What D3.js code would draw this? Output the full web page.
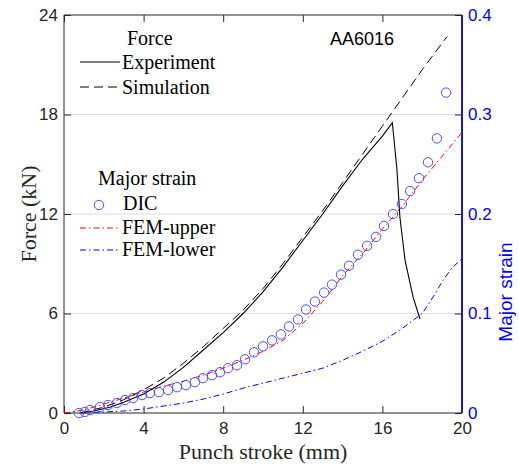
<!DOCTYPE html>
<html>
<head>
<meta charset="utf-8">
<script src="https://cdn.jsdelivr.net/npm/d3@7"></script>
<style>
body { margin: 0; background: #fff; }
</style>
</head>
<body>
<svg></svg>
<script>
// AA6016 punch test: force and major strain against punch stroke

let width = 519, height = 465;
let plotLeft = 64, plotRight = 462, plotTop = 15, plotBottom = 413;

// force curves (kN)
let expStroke = [0.8, 1.5, 2.3, 3, 4, 5, 6, 7, 8, 9, 10, 11, 12, 13, 14, 15, 16, 16.5, 16.73, 16.88, 17.14, 17.54, 17.89];
let expForce  = [0, 0.12, 0.35, 0.65, 1.15, 1.85, 2.75, 3.8, 4.85, 6.0, 7.3, 8.8, 10.4, 12.0, 13.7, 15.3, 16.7, 17.5, 14.7, 11.8, 9.2, 7.0, 5.67];

let simStroke = [0.8, 2, 3, 4, 5, 6, 7, 8, 9, 10, 11, 12, 13, 14, 15, 16, 17, 18, 19.25];
let simForce  = [0, 0.35, 0.8, 1.4, 2.1, 3.0, 4.0, 5.1, 6.2, 7.5, 9.0, 10.6, 12.2, 13.9, 15.6, 17.3, 19.0, 20.7, 22.7];

// major strain
let dicStroke = [0.75, 1.05, 1.31, 1.81, 2.21, 2.66, 3.07, 3.47, 3.92, 4.32, 4.77, 5.23, 5.68, 6.13, 6.58, 6.98, 7.44, 7.84, 8.24, 8.69,
  9.10, 9.55, 10.0, 10.45, 10.9, 11.31, 11.76, 12.16, 12.61, 13.07, 13.47, 13.92, 14.32, 14.77, 15.23, 15.68, 16.08, 16.53, 16.98,
  17.39, 17.84, 18.29, 18.74, 19.2];
let dicStrain = [0, 0.001, 0.003, 0.006, 0.008, 0.010, 0.013, 0.015, 0.018, 0.020, 0.021, 0.023, 0.026, 0.028, 0.031, 0.035, 0.038, 0.041, 0.045, 0.048,
  0.054, 0.061, 0.067, 0.073, 0.079, 0.087, 0.094, 0.104, 0.112, 0.121, 0.129, 0.139, 0.148, 0.159, 0.168, 0.177, 0.188, 0.200, 0.210,
  0.223, 0.236, 0.252, 0.276, 0.322];

let upperStroke = [0, 1, 2, 3, 4, 5, 6, 7, 8, 9, 10, 11, 12, 13, 14, 15, 16, 17, 18, 19, 20];
let upperStrain = [0, 0.003, 0.009, 0.015, 0.021, 0.027, 0.032, 0.038, 0.045, 0.053, 0.062, 0.073, 0.090, 0.112, 0.138, 0.160, 0.185, 0.208, 0.234, 0.258, 0.282];

let lowerStroke = [0.8, 2, 3, 4, 5, 6, 7, 8, 9, 10, 11, 12, 13, 14, 15, 16, 17, 18, 18.5, 19, 19.5, 20];
let lowerStrain = [0, 0.001, 0.002, 0.004, 0.007, 0.010, 0.014, 0.019, 0.025, 0.030, 0.035, 0.040, 0.045, 0.053, 0.062, 0.072, 0.085, 0.100, 0.115, 0.132, 0.146, 0.155];

let strokeTicks = [0, 4, 8, 12, 16, 20];
let forceTicks = [0, 6, 12, 18, 24];
let strainTicks = [0, 0.1, 0.2, 0.3, 0.4];

let serif = "'Liberation Serif', 'Times New Roman', serif";
let sans = "'Liberation Sans', Arial, sans-serif";
let blue = "#0000ff";

let x = d3.scaleLinear().domain([0, 20]).range([plotLeft, plotRight]);
let yF = d3.scaleLinear().domain([0, 24]).range([plotBottom, plotTop]);
let yS = d3.scaleLinear().domain([0, 0.4]).range([plotBottom, plotTop]);

let svg = d3.select("svg")
  .attr("width", width)
  .attr("height", height);

// grid
svg.append("g")
.selectAll("line")
.data([6, 12, 18])
.enter()
.append("line")
  .attr("x1", plotLeft).attr("x2", plotRight)
  .attr("y1", d => yF(d)).attr("y2", d => yF(d))
  .attr("stroke", "#dcdcdc")
  .attr("stroke-width", 1);

// axes
let bottomAxis = svg.append("g")
  .attr("transform", "translate(0," + plotBottom + ")")
  .call(d3.axisBottom(x).tickValues(strokeTicks).tickSize(-7).tickSizeOuter(0).tickPadding(9));
let topAxis = svg.append("g")
  .attr("transform", "translate(0," + plotTop + ")")
  .call(d3.axisTop(x).tickValues(strokeTicks).tickSize(-7).tickSizeOuter(0).tickFormat(""));
let leftAxis = svg.append("g")
  .attr("transform", "translate(" + plotLeft + ",0)")
  .call(d3.axisLeft(yF).tickValues(forceTicks).tickSize(-7).tickSizeOuter(0).tickPadding(6));
let rightAxis = svg.append("g")
  .attr("transform", "translate(" + plotRight + ",0)")
  .call(d3.axisRight(yS).tickValues(strainTicks).tickSize(-7).tickSizeOuter(0).tickPadding(6)
    .tickFormat(d => d === 0 ? "0" : d3.format(".1f")(d)));

[bottomAxis, topAxis, leftAxis, rightAxis].forEach(a => {
  a.select(".domain").remove();
  a.selectAll("line").attr("stroke", "#262626");
  a.selectAll("text").style("font-family", sans).style("font-size", "17px").attr("fill", "#262626");
});
rightAxis.selectAll("text").attr("fill", blue);

// box
svg.append("line").attr("x1", plotLeft).attr("x2", plotRight).attr("y1", plotTop).attr("y2", plotTop).attr("stroke", "#262626");
svg.append("line").attr("x1", plotLeft).attr("x2", plotRight).attr("y1", plotBottom).attr("y2", plotBottom).attr("stroke", "#262626");
svg.append("line").attr("x1", plotLeft).attr("x2", plotLeft).attr("y1", plotTop).attr("y2", plotBottom).attr("stroke", "#262626");
svg.append("line").attr("x1", plotRight).attr("x2", plotRight).attr("y1", plotTop).attr("y2", plotBottom).attr("stroke", "#1a1acc").attr("stroke-width", 2);

// curves
let lineF = d3.line().x(d => x(d[0])).y(d => yF(d[1]));
let lineS = d3.line().x(d => x(d[0])).y(d => yS(d[1]));

svg.append("path")
  .datum(upperStroke.map((s, i) => [s, upperStrain[i]]))
  .attr("d", lineS)
  .attr("fill", "none").attr("stroke", "#ff0000").attr("stroke-width", 1)
  .attr("stroke-dasharray", "6,3,1.5,3");

svg.append("path")
  .datum(lowerStroke.map((s, i) => [s, lowerStrain[i]]))
  .attr("d", lineS)
  .attr("fill", "none").attr("stroke", blue).attr("stroke-width", 1)
  .attr("stroke-dasharray", "6,3,1.5,3");

svg.append("path")
  .datum(simStroke.map((s, i) => [s, simForce[i]]))
  .attr("d", lineF)
  .attr("fill", "none").attr("stroke", "#000").attr("stroke-width", 1)
  .attr("stroke-dasharray", "9,5");

svg.append("path")
  .datum(expStroke.map((s, i) => [s, expForce[i]]))
  .attr("d", lineF)
  .attr("fill", "none").attr("stroke", "#000").attr("stroke-width", 1.1);

svg.append("g")
.selectAll("circle")
.data(dicStroke.map((s, i) => [s, dicStrain[i]]))
.enter()
.append("circle")
  .attr("cx", d => x(d[0]))
  .attr("cy", d => yS(d[1]))
  .attr("r", 4.7)
  .attr("fill", "none")
  .attr("stroke", "#4d4dff")
  .attr("stroke-width", 1);

// axis labels
svg.append("text")
  .attr("x", (plotLeft + plotRight) / 2).attr("y", 459)
  .attr("text-anchor", "middle")
  .style("font-family", serif).style("font-size", "22px")
  .attr("fill", "#262626")
  .text("Punch stroke (mm)");

svg.append("text")
  .attr("transform", "translate(36," + ((plotTop + plotBottom) / 2) + ") rotate(-90)")
  .attr("text-anchor", "middle")
  .style("font-family", serif).style("font-size", "22px")
  .attr("fill", "#262626")
  .text("Force (kN)");

svg.append("text")
  .attr("transform", "translate(512," + ((plotTop + plotBottom) / 2 + 78) + ") rotate(-90)")
  .attr("text-anchor", "middle")
  .style("font-family", sans).style("font-size", "19px")
  .attr("fill", blue)
  .text("Major strain");

svg.append("text")
  .attr("x", 330).attr("y", 45)
  .style("font-family", sans).style("font-size", "18px")
  .attr("fill", "#000")
  .text("AA6016");

// legend
let lg = svg.append("g").style("font-family", serif).style("font-size", "20px").attr("fill", "#000");
lg.append("text").attr("x", 127).attr("y", 45).text("Force");
lg.append("line").attr("x1", 80).attr("x2", 120).attr("y1", 62).attr("y2", 62).attr("stroke", "#000");
lg.append("text").attr("x", 122).attr("y", 69).text("Experiment");
lg.append("line").attr("x1", 80).attr("x2", 120).attr("y1", 87).attr("y2", 87).attr("stroke", "#000").attr("stroke-dasharray", "9,5");
lg.append("text").attr("x", 122).attr("y", 94).text("Simulation");

lg.append("text").attr("x", 98).attr("y", 185).text("Major strain");
lg.append("circle").attr("cx", 99).attr("cy", 205).attr("r", 4.7).attr("fill", "none").attr("stroke", "#4d4dff");
lg.append("text").attr("x", 123).attr("y", 210).text("DIC");
lg.append("line").attr("x1", 80).attr("x2", 120).attr("y1", 228).attr("y2", 228).attr("stroke", "#ff0000").attr("stroke-dasharray", "6,3,1.5,3");
lg.append("text").attr("x", 122).attr("y", 234).text("FEM-upper");
lg.append("line").attr("x1", 80).attr("x2", 120).attr("y1", 250).attr("y2", 250).attr("stroke", blue).attr("stroke-dasharray", "6,3,1.5,3");
lg.append("text").attr("x", 122).attr("y", 256).text("FEM-lower");
</script>
</body>
</html>
